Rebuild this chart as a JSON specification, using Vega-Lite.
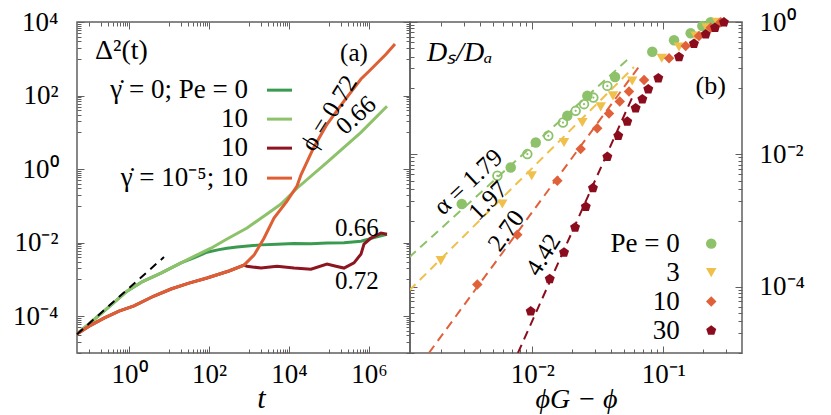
{
"$schema": "https://vega.github.io/schema/vega-lite/v6.json",
"background": "white",
"padding": {"left": 11, "top": 7, "right": 5, "bottom": 2},
"spacing": 0,
"bounds": "flush",
"resolve": {"scale": {"color": "independent", "shape": "independent"}},
"config": {
  "font": "Liberation Serif",
  "view": {"stroke": "#606060", "strokeWidth": 1.5},
  "axis": {"domain": false, "grid": false, "labelFont": "Liberation Serif", "labelFontSize": 27, "labelColor": "black", "tickColor": "#606060", "tickWidth": 1, "labelFlush": false, "labelOverlap": false, "titleFont": "Liberation Serif", "titleFontWeight": "normal", "titleColor": "black"},
  "text": {"font": "Liberation Serif", "fontSize": 26, "color": "black"}
},
"datasets": {
  "curves": [
    {"s":"a","t":0.0501,"m":3.31e-5},{"s":"a","t":0.1,"m":6.17e-5},{"s":"a","t":0.237,"m":1.38e-4},{"s":"a","t":0.891,"m":4.79e-4},{"s":"a","t":2.24,"m":8.91e-4},{"s":"a","t":6.31,"m":1.48e-3},{"s":"a","t":19.95,"m":2.82e-3},{"s":"a","t":44.7,"m":3.98e-3},{"s":"a","t":89.1,"m":5.5e-3},{"s":"a","t":178,"m":6.46e-3},{"s":"a","t":282,"m":7.08e-3},{"s":"a","t":501,"m":7.59e-3},{"s":"a","t":794,"m":7.94e-3},{"s":"a","t":1995,"m":8.71e-3},{"s":"a","t":5012,"m":9.12e-3},{"s":"a","t":13335,"m":9.55e-3},{"s":"a","t":35480,"m":9.33e-3},{"s":"a","t":89130,"m":9.77e-3},{"s":"a","t":237100,"m":0.01},{"s":"a","t":631000,"m":0.011},{"s":"a","t":1259000,"m":0.0135},{"s":"a","t":2818000,"m":0.017},
    {"s":"b","t":0.0501,"m":3.31e-5},{"s":"b","t":0.1,"m":6.17e-5},{"s":"b","t":0.237,"m":1.38e-4},{"s":"b","t":0.891,"m":4.79e-4},{"s":"b","t":2.24,"m":8.91e-4},{"s":"b","t":6.31,"m":1.48e-3},{"s":"b","t":19.95,"m":2.82e-3},{"s":"b","t":44.7,"m":4.37e-3},{"s":"b","t":112.2,"m":7.08e-3},{"s":"b","t":282,"m":1.259e-2},{"s":"b","t":891,"m":2.512e-2},{"s":"b","t":2818,"m":6.03e-2},{"s":"b","t":6310,"m":0.1122},{"s":"b","t":15850,"m":0.302},{"s":"b","t":89130,"m":1.514},{"s":"b","t":631000,"m":10.0},{"s":"b","t":2818000,"m":51.3},
    {"s":"c","t":0.0501,"m":3.31e-5},{"s":"c","t":0.1122,"m":5.75e-5},{"s":"c","t":0.237,"m":8.91e-5},{"s":"c","t":0.562,"m":1.38e-4},{"s":"c","t":1.334,"m":1.905e-4},{"s":"c","t":4.217,"m":3.548e-4},{"s":"c","t":11.22,"m":5.5e-4},{"s":"c","t":31.62,"m":7.94e-4},{"s":"c","t":89.1,"m":1.096e-3},{"s":"c","t":316.2,"m":1.698e-3},{"s":"c","t":750,"m":2.455e-3},{"s":"c","t":891,"m":2.29e-3},{"s":"c","t":1995,"m":2.04e-3},{"s":"c","t":5012,"m":2.29e-3},{"s":"c","t":13335,"m":2.04e-3},{"s":"c","t":35480,"m":1.905e-3},{"s":"c","t":89130,"m":2.63e-3},{"s":"c","t":149600,"m":2.29e-3},{"s":"c","t":237100,"m":2.04e-3},{"s":"c","t":421700,"m":2.82e-3},{"s":"c","t":631000,"m":4.9e-3},{"s":"c","t":749900,"m":9.12e-3},{"s":"c","t":1122000,"m":1.334e-2},{"s":"c","t":1995000,"m":1.82e-2},{"s":"c","t":2818000,"m":1.7e-2},
    {"s":"d","t":0.0501,"m":3.31e-5},{"s":"d","t":0.1122,"m":5.75e-5},{"s":"d","t":0.237,"m":8.91e-5},{"s":"d","t":0.562,"m":1.38e-4},{"s":"d","t":1.334,"m":1.905e-4},{"s":"d","t":4.217,"m":3.548e-4},{"s":"d","t":11.22,"m":5.5e-4},{"s":"d","t":31.62,"m":7.94e-4},{"s":"d","t":89.1,"m":1.096e-3},{"s":"d","t":316.2,"m":1.698e-3},{"s":"d","t":750,"m":2.455e-3},{"s":"d","t":1334,"m":4.57e-3},{"s":"d","t":2371,"m":1.318e-2},{"s":"d","t":4217,"m":4.68e-2},{"s":"d","t":8913,"m":0.135},{"s":"d","t":15850,"m":0.347},{"s":"d","t":19950,"m":0.7},{"s":"d","t":42170,"m":4.0},{"s":"d","t":89130,"m":16.6},{"s":"d","t":237100,"m":70.8},{"s":"d","t":631000,"m":281.8},{"s":"d","t":1000000,"m":457},{"s":"d","t":1585000,"m":758.6},{"s":"d","t":2692000,"m":1349},{"s":"d","t":4467000,"m":2512}
  ],
  "dash": [{"t":0.0501,"m":3.24e-5},{"t":7.5,"m":4.07e-3}],
  "legA": [
    {"s":"a","label":"γ̇ = 0; Pe = 0","t1":2818,"t2":11885,"tx":944,"y":140.3},
    {"s":"b","label":"10","t1":2818,"t2":11885,"tx":944,"y":22.86},
    {"s":"c","label":"10","t1":2818,"t2":11885,"tx":944,"y":3.72},
    {"s":"d","label":"γ̇ = 10⁻⁵; 10","t1":2818,"t2":11885,"tx":944,"y":0.569}
  ],
  "annA": [
    {"label":"(a)","t":421700,"y":1419},
    {"label":"0.66","t":501200,"y":0.02494},
    {"label":"0.72","t":501200,"y":0.000905}
  ],
  "titleA": [{"label":"Δ²(t)","t":0.1413,"y":1610}],
  "rotA1": [{"label":"ϕ = 0.72","t":100000,"y":33.3}],
  "rotA2": [{"label":"0.66","t":473100,"y":29.3}],
  "fits": [
    {"p":"0","x":0.001146,"y":2.786e-4},{"p":"0","x":0.0547,"y":0.2825},
    {"p":"3","x":0.001146,"y":8.77e-5},{"p":"3","x":0.0597,"y":0.2094},
    {"p":"10","x":0.001622,"y":1e-5},{"p":"10","x":0.0653,"y":0.2125},
    {"p":"30","x":0.00776,"y":1e-5},{"p":"30","x":0.0597,"y":0.0829}
  ],
  "pts": [
    {"p":"0","x":2.891e-3,"y":1.778e-3},{"p":"0","x":6.84e-3,"y":6.34e-3},{"p":"0","x":0.01062,"y":0.01513},{"p":"0","x":0.01849,"y":0.0382},{"p":"0","x":0.0263,"y":0.0766},{"p":"0","x":0.0428,"y":0.148},{"p":"0","x":0.0824,"y":0.356},{"p":"0","x":0.1208,"y":0.53},{"p":"0","x":0.1618,"y":0.676},{"p":"0","x":0.1986,"y":0.871},{"p":"0","x":0.23,"y":0.99},
    {"p":"3","x":2.0e-3,"y":2.483e-4},{"p":"3","x":5.9e-3,"y":1.778e-3},{"p":"3","x":9.89e-3,"y":4.75e-3},{"p":"3","x":0.01746,"y":0.01513},{"p":"3","x":0.0241,"y":0.0303},{"p":"3","x":0.0333,"y":0.0522},{"p":"3","x":0.0413,"y":0.0766},{"p":"3","x":0.0579,"y":0.1288},{"p":"3","x":0.0973,"y":0.283},{"p":"3","x":0.1318,"y":0.42},{"p":"3","x":0.1767,"y":0.615},{"p":"3","x":0.2143,"y":0.82},{"p":"3","x":0.258,"y":0.99},
    {"p":"10","x":3.8e-3,"y":1.079e-4},{"p":"10","x":7.67e-3,"y":6.12e-4},{"p":"10","x":0.01552,"y":4.0e-3},{"p":"10","x":0.02339,"y":0.01202},{"p":"10","x":0.0313,"y":0.0249},{"p":"10","x":0.0385,"y":0.0414},{"p":"10","x":0.0465,"y":0.0628},{"p":"10","x":0.0547,"y":0.0889},{"p":"10","x":0.0713,"y":0.1334},{"p":"10","x":0.1107,"y":0.283},{"p":"10","x":0.1483,"y":0.4345},{"p":"10","x":0.1873,"y":0.615},{"p":"10","x":0.23,"y":0.82},{"p":"10","x":0.274,"y":0.99},
    {"p":"30","x":9.72e-3,"y":4.27e-5},{"p":"30","x":0.01358,"y":1.315e-4},{"p":"30","x":0.01746,"y":3.31e-4},{"p":"30","x":0.0212,"y":7.89e-4},{"p":"30","x":0.0256,"y":1.622e-3},{"p":"30","x":0.02904,"y":3.1e-3},{"p":"30","x":0.0374,"y":9.2e-3},{"p":"30","x":0.0453,"y":0.0191},{"p":"30","x":0.0531,"y":0.0313},{"p":"30","x":0.0615,"y":0.0499},{"p":"30","x":0.0692,"y":0.0682},{"p":"30","x":0.0768,"y":0.0966},{"p":"30","x":0.0916,"y":0.1416},{"p":"30","x":0.1318,"y":0.2965},{"p":"30","x":0.1714,"y":0.471},{"p":"30","x":0.2109,"y":0.652},{"p":"30","x":0.2483,"y":0.82},{"p":"30","x":0.2904,"y":0.99}
  ],
  "open": [
    {"x":5.41e-3,"y":4.75e-3},{"x":9.16e-3,"y":0.01011},{"x":0.01324,"y":0.0191},{"x":0.01714,"y":0.0303},{"x":0.02143,"y":0.0455},{"x":0.02483,"y":0.0574},{"x":0.02924,"y":0.0721},{"x":0.0374,"y":0.1084}
  ],
  "legB": [
    {"p":"0","label":"Pe = 0","tx":0.1334,"sx":0.2323,"y":4.49e-4},
    {"p":"3","label":"3","tx":0.1334,"sx":0.2323,"y":1.637e-4},
    {"p":"10","label":"10","tx":0.1334,"sx":0.2323,"y":5.98e-5},
    {"p":"30","label":"30","tx":0.1334,"sx":0.2323,"y":2.18e-5}
  ],
  "titleB": [{"label":"Dₛ/Dₐ","x":0.00157,"y":0.34}],
  "tagB": [{"label":"(b)","x":0.23,"y":0.1084}],
  "rotB1": [{"label":"α = 1.79","x":0.00323,"y":0.00386}],
  "rotB2": [{"label":"1.97","x":0.00459,"y":0.001995}],
  "rotB3": [{"label":"2.70","x":0.0063,"y":0.000705}],
  "rotB4": [{"label":"4.42","x":0.01208,"y":0.000306}]
},
"hconcat": [
  {
    "width": 333, "height": 331,
    "resolve": {"axis": {"x": "independent", "y": "independent"}},
    "layer": [
      {"data": {"name": "curves"}, "mark": {"type": "line", "strokeWidth": 3, "clip": true},
       "encoding": {
         "x": {"field": "t", "type": "quantitative", "scale": {"type": "log", "domain": [0.0501, 10600000], "nice": false},
               "axis": {"orient": "bottom", "values": [1, 100, 10000, 1000000], "ticks": false, "labelPadding": 8, "labelExpr": "'10' + (datum.value < 1 ? '⁻' : '') + ['⁰','¹','²','³','⁴','⁵','⁶'][abs(round(log(datum.value)/LN10))]", "title": "t", "titleFontStyle": "italic", "titleFontSize": 30, "titleBaseline": "alphabetic", "titleX": 184, "titleY": 54}},
         "y": {"field": "m", "type": "quantitative", "scale": {"type": "log", "domain": [0.00001, 10000], "nice": false},
               "axis": {"orient": "left", "values": [0.0001, 0.01, 1, 100, 10000], "ticks": false, "labelPadding": 19, "labelExpr": "'10' + (datum.value < 1 ? '⁻' : '') + ['⁰','¹','²','³','⁴','⁵','⁶'][abs(round(log(datum.value)/LN10))]", "title": null}},
         "color": {"field": "s", "type": "nominal", "scale": {"domain": ["a", "b", "c", "d"], "range": ["#3a9b50", "#8dc26a", "#8c1520", "#df5f34"]}, "legend": null}
       }},
      {"data": {"name": "dash"}, "mark": {"type": "line", "color": "black", "strokeWidth": 2, "strokeDash": [8, 6]},
       "encoding": {
         "x": {"field": "t", "type": "quantitative", "scale": {"type": "log", "domain": [0.0501, 10600000], "nice": false},
               "axis": {"orient": "bottom", "values": [1, 100, 10000, 1000000], "labels": false, "tickSize": -7, "title": null}},
         "y": {"field": "m", "type": "quantitative", "scale": {"type": "log", "domain": [0.00001, 10000], "nice": false},
               "axis": {"orient": "left", "values": [0.0001, 0.01, 1, 100, 10000], "labels": false, "tickSize": -7, "title": null}}
       }},
      {"data": {"name": "legA"}, "mark": {"type": "rule", "strokeWidth": 3},
       "encoding": {
         "x": {"field": "t1", "type": "quantitative", "scale": {"type": "log", "domain": [0.0501, 10600000], "nice": false},
               "axis": {"orient": "bottom", "values": [0.1,0.2,0.3,0.4,0.5,0.6,0.7,0.8,0.9,10,20,30,40,50,60,70,80,90,1000,2000,3000,4000,5000,6000,7000,8000,9000,100000,200000,300000,400000,500000,600000,700000,800000,900000], "labels": false, "tickSize": -4, "title": null}},
         "x2": {"field": "t2"},
         "y": {"field": "y", "type": "quantitative", "scale": {"type": "log", "domain": [0.00001, 10000], "nice": false},
               "axis": {"orient": "left", "values": [0.00001,0.00002,0.00003,0.00004,0.00005,0.00006,0.00007,0.00008,0.00009,0.001,0.002,0.003,0.004,0.005,0.006,0.007,0.008,0.009,0.1,0.2,0.3,0.4,0.5,0.6,0.7,0.8,0.9,10,20,30,40,50,60,70,80,90,1000,2000,3000,4000,5000,6000,7000,8000,9000], "labels": false, "tickSize": -4, "title": null}},
         "color": {"field": "s", "type": "nominal", "scale": {"domain": ["a", "b", "c", "d"], "range": ["#3a9b50", "#8dc26a", "#8c1520", "#df5f34"]}, "legend": null}
       }},
      {"data": {"name": "legA"}, "mark": {"type": "text", "align": "right", "fontSize": 27, "font": "Liberation Serif"},
       "encoding": {
         "x": {"field": "tx", "type": "quantitative", "scale": {"type": "log", "domain": [0.0501, 10600000], "nice": false},
               "axis": {"orient": "top", "values": [1, 100, 10000, 1000000], "labels": false, "tickSize": -7, "title": null}},
         "y": {"field": "y", "type": "quantitative", "scale": {"type": "log", "domain": [0.00001, 10000], "nice": false},
               "axis": {"orient": "right", "values": [0.0001, 0.01, 1, 100, 10000], "labels": false, "tickSize": -7, "title": null}},
         "text": {"field": "label"}
       }},
      {"data": {"name": "annA"}, "mark": {"type": "text", "align": "center", "fontSize": 25, "font": "Liberation Serif"},
       "encoding": {
         "x": {"field": "t", "type": "quantitative", "scale": {"type": "log", "domain": [0.0501, 10600000], "nice": false},
               "axis": {"orient": "top", "values": [0.1,0.2,0.3,0.4,0.5,0.6,0.7,0.8,0.9,10,20,30,40,50,60,70,80,90,1000,2000,3000,4000,5000,6000,7000,8000,9000,100000,200000,300000,400000,500000,600000,700000,800000,900000], "labels": false, "tickSize": -4, "title": null}},
         "y": {"field": "y", "type": "quantitative", "scale": {"type": "log", "domain": [0.00001, 10000], "nice": false},
               "axis": {"orient": "right", "values": [0.00001,0.00002,0.00003,0.00004,0.00005,0.00006,0.00007,0.00008,0.00009,0.001,0.002,0.003,0.004,0.005,0.006,0.007,0.008,0.009,0.1,0.2,0.3,0.4,0.5,0.6,0.7,0.8,0.9,10,20,30,40,50,60,70,80,90,1000,2000,3000,4000,5000,6000,7000,8000,9000], "labels": false, "tickSize": -4, "title": null}},
         "text": {"field": "label"}
       }},
      {"data": {"name": "titleA"}, "mark": {"type": "text", "align": "left", "fontSize": 28, "font": "Liberation Serif"},
       "encoding": {
         "x": {"field": "t", "type": "quantitative", "scale": {"type": "log", "domain": [0.0501, 10600000], "nice": false}, "axis": null},
         "y": {"field": "y", "type": "quantitative", "scale": {"type": "log", "domain": [0.00001, 10000], "nice": false}, "axis": null},
         "text": {"field": "label"}
       }},
      {"data": {"name": "rotA1"}, "mark": {"type": "text", "angle": -58, "fontSize": 25, "font": "Liberation Serif"},
       "encoding": {
         "x": {"field": "t", "type": "quantitative", "scale": {"type": "log", "domain": [0.0501, 10600000], "nice": false}, "axis": null},
         "y": {"field": "y", "type": "quantitative", "scale": {"type": "log", "domain": [0.00001, 10000], "nice": false}, "axis": null},
         "text": {"field": "label"}
       }},
      {"data": {"name": "rotA2"}, "mark": {"type": "text", "angle": -42, "fontSize": 25, "font": "Liberation Serif"},
       "encoding": {
         "x": {"field": "t", "type": "quantitative", "scale": {"type": "log", "domain": [0.0501, 10600000], "nice": false}, "axis": null},
         "y": {"field": "y", "type": "quantitative", "scale": {"type": "log", "domain": [0.00001, 10000], "nice": false}, "axis": null},
         "text": {"field": "label"}
       }}
    ]
  },
  {
    "width": 332, "height": 331,
    "resolve": {"axis": {"x": "independent", "y": "independent"}},
    "layer": [
      {"data": {"name": "fits"}, "mark": {"type": "line", "strokeWidth": 2, "strokeDash": [9, 6], "clip": true},
       "encoding": {
         "x": {"field": "x", "type": "quantitative", "scale": {"type": "log", "domain": [0.001164, 0.399], "nice": false},
               "axis": {"orient": "bottom", "values": [0.01, 0.1], "ticks": false, "labelPadding": 8, "labelExpr": "'10' + (datum.value < 1 ? '⁻' : '') + ['⁰','¹','²','³','⁴','⁵','⁶'][abs(round(log(datum.value)/LN10))]", "title": "ϕG − ϕ", "titleFontStyle": "italic", "titleFontSize": 28, "titleBaseline": "alphabetic", "titleY": 54}},
         "y": {"field": "y", "type": "quantitative", "scale": {"type": "log", "domain": [0.00001, 1], "nice": false},
               "axis": {"orient": "right", "values": [0.0001, 0.01, 1], "ticks": false, "labelPadding": 17, "labelExpr": "'10' + (datum.value < 1 ? '⁻' : '') + ['⁰','¹','²','³','⁴','⁵','⁶'][abs(round(log(datum.value)/LN10))]", "title": null}},
         "color": {"field": "p", "type": "nominal", "scale": {"domain": ["0", "3", "10", "30"], "range": ["#8dc26a", "#efc04b", "#e0603a", "#8b0d1d"]}, "legend": null},
         "detail": {"field": "p"}
       }},
      {"data": {"name": "pts"}, "mark": {"type": "point", "filled": true, "size": 110, "opacity": 1},
       "encoding": {
         "x": {"field": "x", "type": "quantitative", "scale": {"type": "log", "domain": [0.001164, 0.399], "nice": false},
               "axis": {"orient": "bottom", "values": [0.01, 0.1], "labels": false, "tickSize": -7, "title": null}},
         "y": {"field": "y", "type": "quantitative", "scale": {"type": "log", "domain": [0.00001, 1], "nice": false},
               "axis": {"orient": "right", "values": [0.0001, 0.01, 1], "labels": false, "tickSize": -7, "title": null}},
         "color": {"field": "p", "type": "nominal", "scale": {"domain": ["0", "3", "10", "30"], "range": ["#8dc26a", "#efc04b", "#e0603a", "#8b0d1d"]}, "legend": null},
         "shape": {"field": "p", "type": "nominal", "scale": {"domain": ["0", "3", "10", "30"], "range": ["circle", "triangle-down", "diamond", "M0,-1L0.951,-0.309L0.588,0.809L-0.588,0.809L-0.951,-0.309Z"]}, "legend": null}
       }},
      {"data": {"name": "open"}, "mark": {"type": "point", "filled": false, "size": 75, "strokeWidth": 1.8, "color": "#8dc26a", "opacity": 1},
       "encoding": {
         "x": {"field": "x", "type": "quantitative", "scale": {"type": "log", "domain": [0.001164, 0.399], "nice": false},
               "axis": {"orient": "bottom", "values": [0.002,0.003,0.004,0.005,0.006,0.007,0.008,0.009,0.02,0.03,0.04,0.05,0.06,0.07,0.08,0.09,0.2,0.3], "labels": false, "tickSize": -4, "title": null}},
         "y": {"field": "y", "type": "quantitative", "scale": {"type": "log", "domain": [0.00001, 1], "nice": false},
               "axis": {"orient": "right", "values": [0.00001,0.00002,0.00003,0.00004,0.00005,0.00006,0.00007,0.00008,0.00009,0.001,0.002,0.003,0.004,0.005,0.006,0.007,0.008,0.009,0.1,0.2,0.3,0.4,0.5,0.6,0.7,0.8,0.9], "labels": false, "tickSize": -4, "title": null}}
       }},
      {"data": {"name": "open"}, "mark": {"type": "circle", "size": 5, "color": "#8dc26a", "opacity": 1},
       "encoding": {
         "x": {"field": "x", "type": "quantitative", "scale": {"type": "log", "domain": [0.001164, 0.399], "nice": false},
               "axis": {"orient": "top", "values": [0.01, 0.1], "labels": false, "tickSize": -7, "title": null}},
         "y": {"field": "y", "type": "quantitative", "scale": {"type": "log", "domain": [0.00001, 1], "nice": false},
               "axis": {"orient": "left", "values": [0.0001, 0.01, 1], "labels": false, "tickSize": -7, "title": null}}
       }},
      {"data": {"name": "legB"}, "mark": {"type": "point", "filled": true, "size": 110, "opacity": 1},
       "encoding": {
         "x": {"field": "sx", "type": "quantitative", "scale": {"type": "log", "domain": [0.001164, 0.399], "nice": false},
               "axis": {"orient": "top", "values": [0.002,0.003,0.004,0.005,0.006,0.007,0.008,0.009,0.02,0.03,0.04,0.05,0.06,0.07,0.08,0.09,0.2,0.3], "labels": false, "tickSize": -4, "title": null}},
         "y": {"field": "y", "type": "quantitative", "scale": {"type": "log", "domain": [0.00001, 1], "nice": false},
               "axis": {"orient": "left", "values": [0.00001,0.00002,0.00003,0.00004,0.00005,0.00006,0.00007,0.00008,0.00009,0.001,0.002,0.003,0.004,0.005,0.006,0.007,0.008,0.009,0.1,0.2,0.3,0.4,0.5,0.6,0.7,0.8,0.9], "labels": false, "tickSize": -4, "title": null}},
         "color": {"field": "p", "type": "nominal", "scale": {"domain": ["0", "3", "10", "30"], "range": ["#8dc26a", "#efc04b", "#e0603a", "#8b0d1d"]}, "legend": null},
         "shape": {"field": "p", "type": "nominal", "scale": {"domain": ["0", "3", "10", "30"], "range": ["circle", "triangle-down", "diamond", "M0,-1L0.951,-0.309L0.588,0.809L-0.588,0.809L-0.951,-0.309Z"]}, "legend": null}
       }},
      {"data": {"name": "legB"}, "mark": {"type": "text", "align": "right", "fontSize": 27, "font": "Liberation Serif"},
       "encoding": {
         "x": {"field": "tx", "type": "quantitative", "scale": {"type": "log", "domain": [0.001164, 0.399], "nice": false}, "axis": null},
         "y": {"field": "y", "type": "quantitative", "scale": {"type": "log", "domain": [0.00001, 1], "nice": false}, "axis": null},
         "text": {"field": "label"}
       }},
      {"data": {"name": "titleB"}, "mark": {"type": "text", "align": "left", "fontSize": 28, "fontStyle": "italic", "font": "Liberation Serif"},
       "encoding": {
         "x": {"field": "x", "type": "quantitative", "scale": {"type": "log", "domain": [0.001164, 0.399], "nice": false}, "axis": null},
         "y": {"field": "y", "type": "quantitative", "scale": {"type": "log", "domain": [0.00001, 1], "nice": false}, "axis": null},
         "text": {"field": "label"}
       }},
      {"data": {"name": "tagB"}, "mark": {"type": "text", "align": "center", "fontSize": 26, "font": "Liberation Serif"},
       "encoding": {
         "x": {"field": "x", "type": "quantitative", "scale": {"type": "log", "domain": [0.001164, 0.399], "nice": false}, "axis": null},
         "y": {"field": "y", "type": "quantitative", "scale": {"type": "log", "domain": [0.00001, 1], "nice": false}, "axis": null},
         "text": {"field": "label"}
       }},
      {"data": {"name": "rotB1"}, "mark": {"type": "text", "angle": -43, "fontSize": 25, "font": "Liberation Serif"},
       "encoding": {
         "x": {"field": "x", "type": "quantitative", "scale": {"type": "log", "domain": [0.001164, 0.399], "nice": false}, "axis": null},
         "y": {"field": "y", "type": "quantitative", "scale": {"type": "log", "domain": [0.00001, 1], "nice": false}, "axis": null},
         "text": {"field": "label"}
       }},
      {"data": {"name": "rotB2"}, "mark": {"type": "text", "angle": -45, "fontSize": 25, "font": "Liberation Serif"},
       "encoding": {
         "x": {"field": "x", "type": "quantitative", "scale": {"type": "log", "domain": [0.001164, 0.399], "nice": false}, "axis": null},
         "y": {"field": "y", "type": "quantitative", "scale": {"type": "log", "domain": [0.00001, 1], "nice": false}, "axis": null},
         "text": {"field": "label"}
       }},
      {"data": {"name": "rotB3"}, "mark": {"type": "text", "angle": -54, "fontSize": 25, "font": "Liberation Serif"},
       "encoding": {
         "x": {"field": "x", "type": "quantitative", "scale": {"type": "log", "domain": [0.001164, 0.399], "nice": false}, "axis": null},
         "y": {"field": "y", "type": "quantitative", "scale": {"type": "log", "domain": [0.00001, 1], "nice": false}, "axis": null},
         "text": {"field": "label"}
       }},
      {"data": {"name": "rotB4"}, "mark": {"type": "text", "angle": -58, "fontSize": 25, "font": "Liberation Serif"},
       "encoding": {
         "x": {"field": "x", "type": "quantitative", "scale": {"type": "log", "domain": [0.001164, 0.399], "nice": false}, "axis": null},
         "y": {"field": "y", "type": "quantitative", "scale": {"type": "log", "domain": [0.00001, 1], "nice": false}, "axis": null},
         "text": {"field": "label"}
       }}
    ]
  }
]
}
